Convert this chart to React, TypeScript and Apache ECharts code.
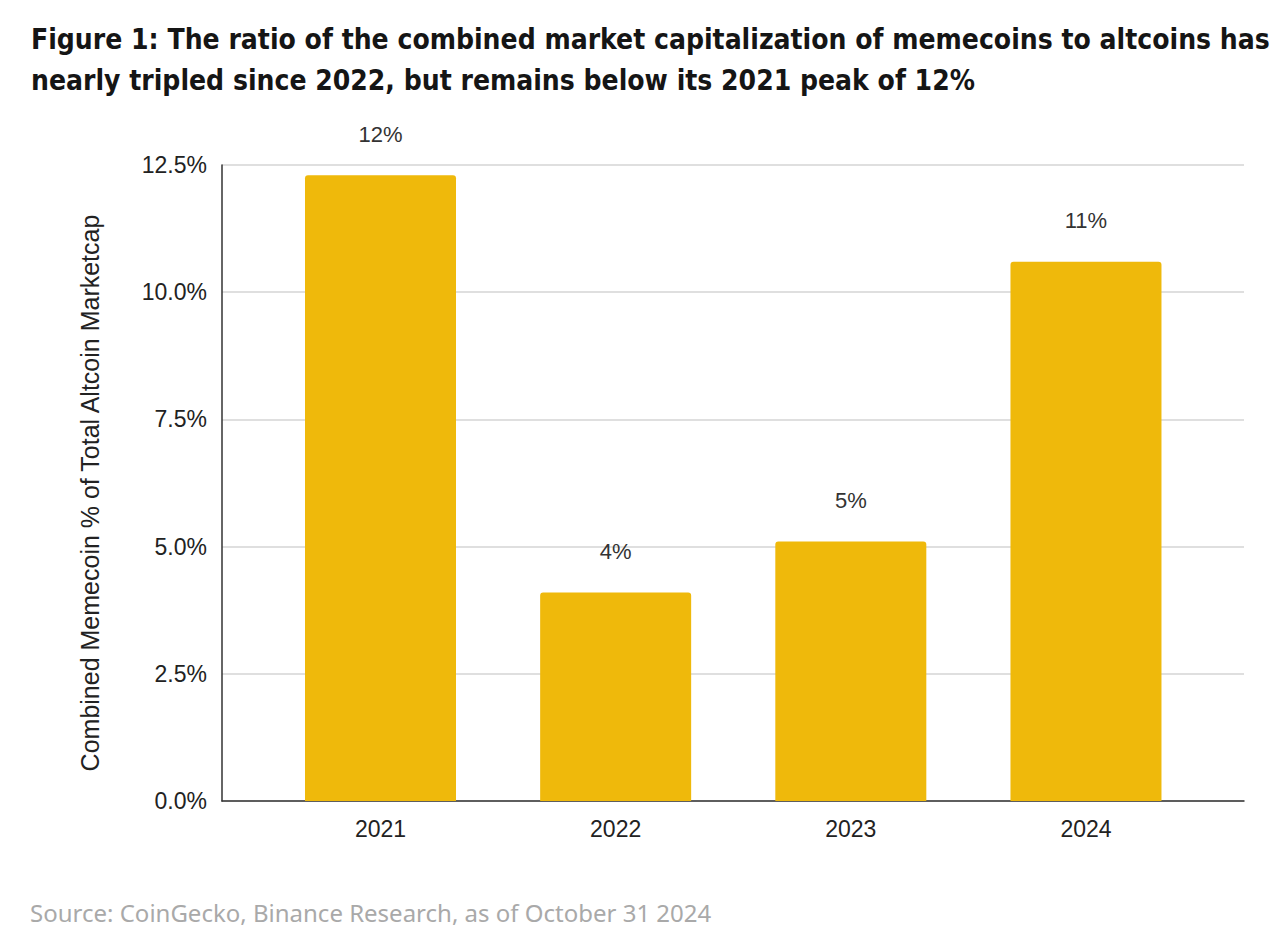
import React, { useEffect, useRef } from "react";
import * as echarts from "echarts";

const categories = ["2021", "2022", "2023", "2024"];
const values = [12.3, 4.1, 5.1, 10.6];
const labels = ["12%", "4%", "5%", "11%"];
const yTicks = [0, 2.5, 5, 7.5, 10, 12.5];
const titleLines = [
  "Figure 1: The ratio of the combined market capitalization of memecoins to altcoins has",
  "nearly tripled since 2022, but remains below its 2021 peak of 12%",
];
const sourceText = "Source: CoinGecko, Binance Research, as of October 31 2024";
const yAxisName = "Combined Memecoin % of Total Altcoin Marketcap";

export default function App() {
  const ref = useRef<HTMLDivElement>(null);
  useEffect(() => {
    if (!ref.current) return;
    const chart = echarts.init(ref.current, null, { renderer: "svg" });
    const positions = categories.map((_, i) => i);
    chart.setOption({
      animation: false,
      backgroundColor: "#ffffff",
      title: {
        text: titleLines.join("\n"),
        left: 26,
        top: 14,
        textStyle: {
          fontFamily: "'DejaVu Sans Condensed', 'Noto Sans'",
          fontWeight: "bold",
          fontSize: 28,
          lineHeight: 41,
          color: "#151515",
        },
      },
      graphic: [
        {
          type: "text",
          left: 30,
          top: 900,
          style: {
            text: sourceText,
            fontFamily: "Noto Sans",
            fontSize: 24,
            fill: "#a9a9a9",
          },
        },
      ],
      grid: { left: 222, right: 36, top: 165, bottom: 132 },
      xAxis: {
        type: "value",
        min: -0.674,
        max: 3.672,
        splitLine: { show: false },
        axisLine: { show: true, lineStyle: { color: "#333333", width: 1.5 } },
        axisTick: { show: false },
        axisLabel: {
          customValues: positions,
          fontFamily: "Liberation Sans",
          fontSize: 23,
          color: "#222222",
          margin: 16,
          formatter: (v: number) => categories[Math.round(v)] ?? "",
        },
      },
      yAxis: {
        type: "value",
        min: yTicks[0],
        max: yTicks[yTicks.length - 1],
        interval: 2.5,
        name: yAxisName,
        nameLocation: "middle",
        nameGap: 120,
        nameTextStyle: {
          fontFamily: "Liberation Sans",
          fontSize: 25,
          color: "#222222",
          padding: [0, 20, 0, 0],
        },
        axisLine: {
          show: true,
          onZero: false,
          lineStyle: { color: "#333333", width: 1.5 },
        },
        axisTick: { show: false },
        axisLabel: {
          fontFamily: "Liberation Sans",
          fontSize: 23,
          color: "#222222",
          margin: 15,
          formatter: (v: number) => v.toFixed(1) + "%",
        },
        splitLine: { lineStyle: { color: "#d4d4d4", width: 1.5 } },
      },
      series: [
        {
          type: "bar",
          data: values.map((v, i) => [positions[i], v]),
          barWidth: 151,
          itemStyle: { color: "#EFB90B", borderRadius: [3, 3, 0, 0] },
          label: {
            show: true,
            position: "top",
            distance: 30,
            fontFamily: "Liberation Sans",
            fontSize: 22,
            color: "#333333",
            formatter: (p: any) => labels[p.dataIndex],
          },
        },
      ],
    });
    return () => chart.dispose();
  }, []);
  return (
    <div
      ref={ref}
      style={{ position: "fixed", left: 0, top: 0, width: 1280, height: 933 }}
    />
  );
}
